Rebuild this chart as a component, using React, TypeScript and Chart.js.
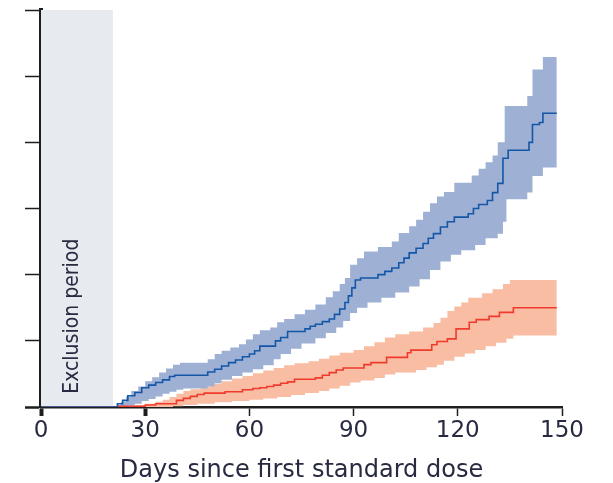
import { useEffect, useRef } from 'react';
import { Chart, registerables } from 'chart.js';

Chart.register(...registerables);

// step times (days) and cumulative values
const blueDays = [0, 22, 23.5, 25, 27, 29, 31, 33, 35, 37, 38.5, 48, 50, 52, 54, 56, 58, 60, 61.5, 63, 67.5, 69, 71, 76, 77.5, 79, 81, 83, 84.5, 86, 87.5, 88.5, 89.5, 90.5, 92, 97, 99, 101, 103, 104.5, 106, 108, 110, 111.5, 113, 115, 117, 119, 123, 124.5, 126, 128.5, 130, 131.5, 133, 134.5, 140.5, 141.5, 143.5, 144.5, 148.5];
const blueVals = [0, 0.05, 0.1, 0.17, 0.22, 0.29, 0.33, 0.37, 0.41, 0.46, 0.48, 0.53, 0.57, 0.62, 0.67, 0.71, 0.76, 0.8, 0.85, 0.92, 1.0, 1.05, 1.14, 1.18, 1.22, 1.25, 1.29, 1.33, 1.4, 1.48, 1.58, 1.68, 1.8, 1.92, 1.95, 2.0, 2.05, 2.1, 2.18, 2.25, 2.33, 2.4, 2.47, 2.55, 2.62, 2.72, 2.8, 2.87, 2.92, 3.0, 3.06, 3.12, 3.24, 3.38, 3.76, 3.88, 4.0, 4.27, 4.3, 4.44, 4.44];

const blueUpperDays = [22, 23, 24.5, 26, 28, 30, 32, 34, 36, 38, 40, 48, 50, 52, 54.5, 57, 59, 61, 63, 66, 68, 70, 73, 76, 79, 82, 84, 86, 87.5, 89, 91, 93, 97, 101, 103, 106, 108, 110, 112, 114, 116, 119, 124, 126, 128, 130, 131.5, 133.5, 140, 141.5, 144.5, 148.5];
const blueUpperVals = [0.03, 0.08, 0.16, 0.24, 0.31, 0.39, 0.45, 0.52, 0.58, 0.64, 0.67, 0.72, 0.8, 0.85, 0.9, 0.95, 1.02, 1.1, 1.16, 1.2, 1.28, 1.33, 1.4, 1.47, 1.55, 1.66, 1.75, 1.86, 1.95, 2.15, 2.25, 2.35, 2.42, 2.5, 2.63, 2.73, 2.83, 2.95, 3.08, 3.18, 3.25, 3.39, 3.5, 3.6, 3.7, 3.8, 4.0, 4.55, 4.7, 5.1, 5.29, 5.29];

const blueLowerDays = [22, 25, 27, 29, 31, 33, 35, 37, 39, 41, 48, 50, 52, 55, 58, 61, 64, 67, 69, 72, 75, 79, 82, 85, 87, 89, 91, 94, 98, 102, 106, 109, 112, 115, 118, 121, 125, 128, 131.5, 133, 134, 140, 141.5, 144.5, 148.5];
const blueLowerVals = [0, 0.02, 0.05, 0.09, 0.12, 0.16, 0.2, 0.23, 0.26, 0.28, 0.31, 0.36, 0.41, 0.47, 0.52, 0.57, 0.63, 0.72, 0.8, 0.88, 0.96, 1.04, 1.12, 1.2, 1.3, 1.42, 1.5, 1.58, 1.65, 1.73, 1.82, 1.93, 2.07, 2.2, 2.3, 2.37, 2.45, 2.55, 2.62, 2.8, 3.14, 3.24, 3.49, 3.62, 3.62];

const redDays = [0, 22, 30, 33, 39, 41, 43, 45, 47, 53, 58, 61, 63, 65, 67, 69, 71, 73, 79, 81, 83, 85, 87, 93, 95, 99.5, 105.5, 106.5, 112.5, 114, 117, 119.5, 123.3, 125.3, 129, 132, 136, 148.5];
const redVals = [0, 0.01, 0.03, 0.05, 0.1, 0.13, 0.16, 0.19, 0.21, 0.23, 0.26, 0.28, 0.29, 0.31, 0.33, 0.36, 0.38, 0.42, 0.44, 0.48, 0.52, 0.56, 0.59, 0.64, 0.67, 0.75, 0.82, 0.86, 0.94, 0.99, 1.03, 1.18, 1.28, 1.32, 1.37, 1.43, 1.5, 1.5];

const redUpperDays = [22, 24, 27, 30, 33, 35, 37, 39, 41, 43, 46, 49, 52, 55, 58, 61, 64, 67, 70, 73, 77, 80, 83, 86, 90, 93, 96, 99, 102, 106, 110, 113, 115, 117, 119, 121, 123, 127, 130, 133, 135, 148.5];
const redUpperVals = [0, 0.01, 0.03, 0.05, 0.08, 0.11, 0.15, 0.2, 0.24, 0.27, 0.31, 0.35, 0.39, 0.43, 0.47, 0.51, 0.55, 0.59, 0.63, 0.66, 0.69, 0.73, 0.78, 0.82, 0.86, 0.92, 0.98, 1.05, 1.1, 1.14, 1.2, 1.27, 1.35, 1.45, 1.52, 1.58, 1.65, 1.72, 1.78, 1.86, 1.92, 1.92];

const redLowerDays = [22, 38, 41, 45, 50, 55, 60, 64, 68, 72, 76, 80, 83, 86, 89, 92, 96, 99, 102, 108, 111, 114, 116, 119, 122, 125, 128, 131, 134, 136, 148.5];
const redLowerVals = [0, 0.01, 0.03, 0.05, 0.07, 0.09, 0.11, 0.13, 0.15, 0.18, 0.21, 0.24, 0.28, 0.32, 0.37, 0.4, 0.44, 0.49, 0.52, 0.56, 0.6, 0.64, 0.7, 0.76, 0.81, 0.86, 0.92, 0.97, 1.03, 1.08, 1.08];

const exclusionDays = [0, 20.7];
const exclusionLabel = 'Exclusion period';
const xTitle = 'Days since first standard dose';

const textColor = '#272a40';

const zip = (xs: number[], ys: number[]) => xs.map((x, i) => ({ x, y: ys[i] }));

const exclusionText = {
  id: 'exclusionText',
  afterDatasetsDraw(chart: Chart) {
    const { ctx, scales } = chart;
    const x = scales.x.getPixelForValue(9.2);
    const y = scales.y.getPixelForValue(0.2);
    ctx.save();
    ctx.translate(x, y);
    ctx.rotate(-Math.PI / 2);
    ctx.fillStyle = textColor;
    ctx.font = '21px "Liberation Sans Narrow", "DejaVu Sans Condensed", sans-serif';
    ctx.textAlign = 'left';
    ctx.textBaseline = 'middle';
    ctx.fillText(exclusionLabel, 0, 0);
    ctx.restore();
  },
};

const App = () => {
  const chartRef = useRef<HTMLCanvasElement>(null);
  const chartInstance = useRef<Chart | null>(null);

  useEffect(() => {
    if (!chartRef.current) return;
    if (chartInstance.current) chartInstance.current.destroy();

    const lineBase = { pointRadius: 0, stepped: true as const, tension: 0 };

    chartInstance.current = new Chart(chartRef.current, {
      type: 'line',
      data: {
        datasets: [
          { ...lineBase, label: 'blue', data: zip(blueDays, blueVals), borderColor: '#1357a6', borderWidth: 1.6, fill: false, order: 0 },
          { ...lineBase, label: 'red', data: zip(redDays, redVals), borderColor: '#ef3b2c', borderWidth: 1.6, fill: false, order: 0 },
          { ...lineBase, label: 'blueUpper', data: zip(blueUpperDays, blueUpperVals), borderWidth: 0, borderColor: 'rgba(0,0,0,0)', backgroundColor: '#9fb0d5', fill: '+1', order: 1 },
          { ...lineBase, label: 'blueLower', data: zip(blueLowerDays, blueLowerVals), borderWidth: 0, borderColor: 'rgba(0,0,0,0)', fill: false, order: 1 },
          { ...lineBase, label: 'redUpper', data: zip(redUpperDays, redUpperVals), borderWidth: 0, borderColor: 'rgba(0,0,0,0)', backgroundColor: '#f9bda3', fill: '+1', order: 1 },
          { ...lineBase, label: 'redLower', data: zip(redLowerDays, redLowerVals), borderWidth: 0, borderColor: 'rgba(0,0,0,0)', fill: false, order: 1 },
          { ...lineBase, label: 'exclusion', data: exclusionDays.map((x) => ({ x, y: 6 })), borderWidth: 0, borderColor: 'rgba(0,0,0,0)', backgroundColor: '#e7eaee', fill: 'origin', stepped: false, order: 2 },
        ],
      },
      options: {
        responsive: true,
        maintainAspectRatio: false,
        animation: false,
        layout: { padding: { top: 10, right: 51, left: 0, bottom: 0 } },
        plugins: {
          legend: { display: false },
          tooltip: { enabled: false },
        },
        scales: {
          x: {
            type: 'linear',
            min: 0,
            max: 150,
            afterFit: (scale) => { scale.height = 76; },
            ticks: {
              stepSize: 30,
              color: textColor,
              padding: 1,
              font: { family: '"DejaVu Sans", sans-serif', size: 23 },
            },
            grid: {
              drawOnChartArea: false,
              drawTicks: true,
              tickLength: 9,
              tickColor: '#1e1e1e',
              tickWidth: (ctx) => (ctx.tick && (ctx.tick.value === 0 || ctx.tick.value === 30) ? 4 : 1.5),
            },
            border: { color: '#1e1e1e', width: 2.5 },
            title: {
              display: true,
              text: xTitle,
              color: textColor,
              padding: { top: 0, bottom: -2 },
              font: { family: '"DejaVu Sans", sans-serif', size: 24 },
            },
          },
          y: {
            min: 0,
            max: 6,
            afterFit: (scale) => { scale.width = 41; },
            ticks: { stepSize: 1, display: false },
            grid: {
              drawOnChartArea: false,
              drawTicks: true,
              tickLength: 16,
              tickColor: '#1e1e1e',
              tickWidth: (ctx) => (ctx.tick && ctx.tick.value === 0 ? 2.5 : 1.5),
            },
            border: { color: '#1e1e1e', width: 4 },
          },
        },
      },
      plugins: [exclusionText],
    });

    return () => {
      if (chartInstance.current) {
        chartInstance.current.destroy();
        chartInstance.current = null;
      }
    };
  }, []);

  return (
    <div style={{ position: 'absolute', left: 0, top: 0, width: 613, height: 483, background: '#fff' }}>
      <canvas ref={chartRef}></canvas>
    </div>
  );
};

export default App;
